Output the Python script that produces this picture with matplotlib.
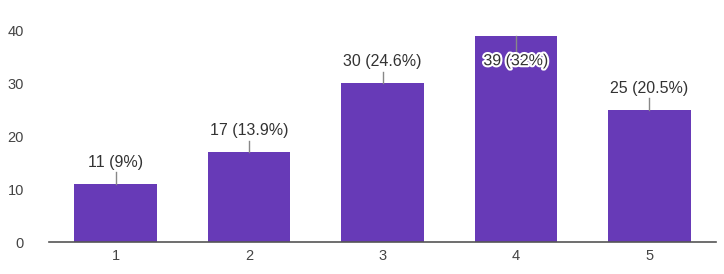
import matplotlib.pyplot as plt
import matplotlib.patheffects as pe

categories = ["1", "2", "3", "4", "5"]
counts = [11, 17, 30, 39, 25]
percents = ["9%", "13.9%", "24.6%", "32%", "20.5%"]

plt.rcParams['font.family'] = ['Liberation Sans', 'DejaVu Sans']

fig = plt.figure(figsize=(7.24, 2.74), dpi=100)
ax = fig.add_axes([49 / 724, 32 / 274, (716 - 49) / 724, 222 / 274])

x = list(range(1, len(counts) + 1))
ax.bar(x, counts, width=0.62, color="#673ab7", zorder=2)

for xi, c, p in zip(x, counts, percents):
    label = f"{c} ({p})"
    if c >= 35:
        # label sits inside the bar with a white halo
        ax.plot([xi, xi], [c, c - 2.8], color="#888888", lw=1, zorder=3)
        ax.text(xi, c - 4.7, label, ha="center", va="center", fontsize=11.5,
                color="#333333", zorder=4,
                path_effects=[pe.withStroke(linewidth=3, foreground="white")])
    else:
        ax.plot([xi, xi], [c, c + 2.2], color="#888888", lw=1, zorder=3)
        ax.text(xi, c + 4.1, label, ha="center", va="center", fontsize=11.5,
                color="#333333", zorder=4)

ax.set_xlim(0.5, 5.5)
ax.set_ylim(0, 42)
ax.set_yticks([0, 10, 20, 30, 40])
ax.set_xticks(x)
ax.set_xticklabels(categories)

for s in ["top", "right", "left"]:
    ax.spines[s].set_visible(False)
ax.spines["bottom"].set_color("#555555")
ax.spines["bottom"].set_linewidth(1.2)
ax.spines["bottom"].set_zorder(3)
ax.tick_params(axis="both", length=0, labelsize=10.5, colors="#444444")
ax.tick_params(axis="y", pad=18)
ax.tick_params(axis="x", pad=5)

fig.savefig("out.png", dpi=100)
